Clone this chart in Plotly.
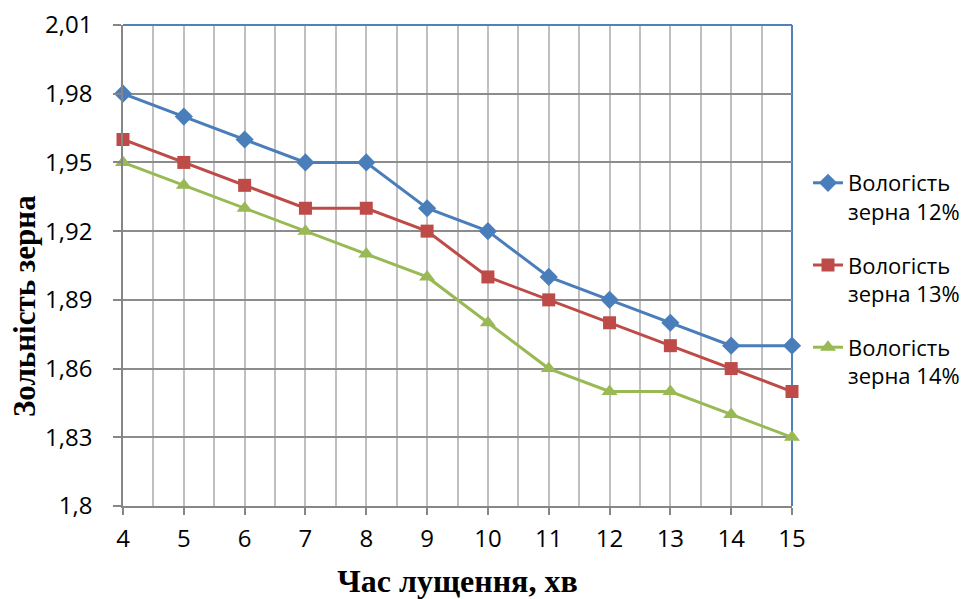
import plotly.graph_objects as go

x_vals = [4, 5, 6, 7, 8, 9, 10, 11, 12, 13, 14, 15]
s12 = [1.98, 1.97, 1.96, 1.95, 1.95, 1.93, 1.92, 1.90, 1.89, 1.88, 1.87, 1.87]
s13 = [1.96, 1.95, 1.94, 1.93, 1.93, 1.92, 1.90, 1.89, 1.88, 1.87, 1.86, 1.85]
s14 = [1.95, 1.94, 1.93, 1.92, 1.91, 1.90, 1.88, 1.86, 1.85, 1.85, 1.84, 1.83]
names = ["Вологість<br>зерна 12%", "Вологість<br>зерна 13%", "Вологість<br>зерна 14%"]
y_ticks = [1.80, 1.83, 1.86, 1.89, 1.92, 1.95, 1.98, 2.01]
y_ticktext = ["1,8", "1,83", "1,86", "1,89", "1,92", "1,95", "1,98", "2,01"]

colors = ["#4A7EBB", "#BE4B48", "#98B954"]
symbols = ["diamond", "square", "triangle-up"]
sizes = [14, 13, 14]

fig = go.Figure()
for i, (s, n, c, sym, sz) in enumerate(zip([s12, s13, s14], names, colors, symbols, sizes)):
    fig.add_trace(go.Scatter(
        x=x_vals, y=s, name=n, mode="lines+markers", legendgroup=f"g{i}",
        line=dict(color=c, width=3),
        marker=dict(symbol=sym, size=sz, color=c),
        cliponaxis=False,
    ))

TF = 24
LF = 22
fig.update_layout(
    width=966, height=599,
    margin=dict(l=123, r=174, t=25, b=93, autoexpand=False),
    paper_bgcolor="white", plot_bgcolor="white",
    font=dict(family="Open Sans", size=TF, color="black"),
    showlegend=True,
    legend=dict(xref="container", yref="container",
                x=808 / 966, xanchor="left", y=1 - 162 / 599, yanchor="top",
                valign="top",
                font=dict(family="Open Sans", size=LF, color="black"),
                tracegroupgap=22, itemwidth=30,
                bgcolor="rgba(0,0,0,0)"),
    xaxis=dict(
        range=[4, 15], tickmode="array", tickvals=x_vals,
        ticks="outside", ticklen=7, tickcolor="#868686", tickwidth=1.5,
        ticklabelstandoff=3, automargin=False,
        showgrid=True, gridcolor="#BFBFBF", gridwidth=1.5,
        minor=dict(dtick=0.5, tick0=4, showgrid=True, gridcolor="#BFBFBF", gridwidth=1.5),
        showline=True, linecolor="#868686", linewidth=1.5,
        zeroline=False,
        tickfont=dict(family="Open Sans", size=TF),
        title=dict(text="<b>Час лущення, хв</b>",
                   font=dict(family="Liberation Serif", size=32), standoff=20),
    ),
    yaxis=dict(
        range=[1.80, 2.01], tickmode="array", tickvals=y_ticks, ticktext=y_ticktext,
        ticks="outside", ticklen=8, tickcolor="#868686", tickwidth=1.5,
        ticklabelstandoff=16, automargin=False,
        showgrid=True, gridcolor="#8C8C8C", gridwidth=1.5,
        showline=True, linecolor="#868686", linewidth=1.5,
        zeroline=False,
        tickfont=dict(family="Open Sans", size=TF),
    ),
    annotations=[dict(
        text="<b>Зольність зерна</b>", textangle=-90,
        xref="paper", yref="paper", x=0, y=1 - (306 - 25) / 481,
        xanchor="center", yanchor="middle", xshift=-99, showarrow=False,
        font=dict(family="Liberation Serif", size=31, color="black"),
    )],
)

# blue top and right border of plot area
fig.add_shape(type="line", xref="paper", yref="paper", x0=0, x1=1, y0=1, y1=1,
              line=dict(color="#4F81BD", width=2), layer="above")
fig.add_shape(type="line", xref="paper", yref="paper", x0=1, x1=1, y0=0, y1=1,
              line=dict(color="#4F81BD", width=2), layer="below")

fig.write_html("out.html")
